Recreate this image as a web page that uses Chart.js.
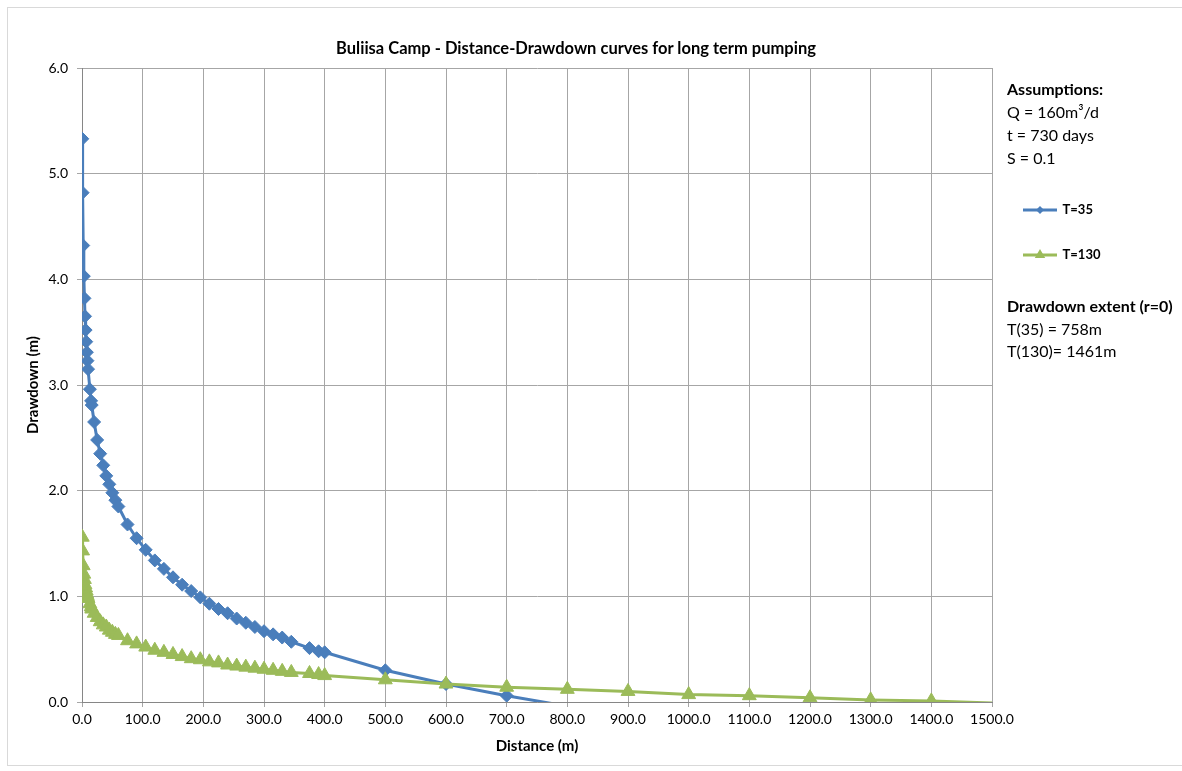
<!DOCTYPE html>
<html>
<head>
<meta charset="utf-8">
<title>Buliisa Camp - Distance-Drawdown curves</title>
<script src="https://cdn.jsdelivr.net/npm/chart.js@4.4.1/dist/chart.umd.min.js"></script>
<style>
  body { margin: 0; background: #fff; font-family: Lato, "Open Sans", sans-serif; color: #000; }
  #frame { position: absolute; left: 7px; top: 7px; width: 1200px; height: 757px; border: 1px solid #d9d9d9; }
  #chart { position: absolute; left: 8px; top: 8px; }
  .txt { position: absolute; white-space: nowrap; }
  #title { left: 0; width: 1152px; top: 38px; text-align: center; font-weight: bold; font-size: 16.5px; line-height: 20px; }
  .notes { left: 1007px; font-size: 16px; line-height: 23px; }
  .notes b { font-weight: bold; }
</style>
</head>
<body>
<div id="frame"></div>
<canvas id="chart" width="1174" height="763"></canvas>
<div id="title" class="txt">Buliisa Camp - Distance-Drawdown curves for long term pumping</div>
<div class="txt notes" style="top:77px"><b>Assumptions:</b><br>Q = 160m³/d<br>t = 730 days<br>S = 0.1</div>
<div class="txt notes" style="top:295px; line-height:22.5px"><b>Drawdown extent (r=0)</b><br>T(35) = 758m<br>T(130)= 1461m</div>
<script>
// distance from the pumping well (m)
var distance = [0.5, 1, 2, 3, 4, 5, 6, 7, 8, 9, 10, 13, 15, 16,
	20, 25, 30, 35, 40, 45, 50, 55, 60, 75, 90, 105, 120, 135, 150, 165,
	180, 195, 210, 225, 240, 255, 270, 285, 300, 315, 330, 345, 375, 390, 400,
	500, 600, 700, 800, 900, 1000, 1100, 1200, 1300, 1400, 1500];

// drawdown (m), T=35
var drawdownT35 = [5.33, 4.82, 4.32, 4.03, 3.82, 3.65, 3.52, 3.41, 3.31, 3.23, 3.15,
	2.96, 2.85, 2.81,
	2.65, 2.48, 2.35, 2.24, 2.14, 2.06, 1.98, 1.91, 1.85,
	1.68, 1.55, 1.44, 1.34, 1.26, 1.18, 1.11, 1.05, 0.99, 0.93, 0.88, 0.84, 0.79, 0.75, 0.71, 0.67, 0.64, 0.61, 0.57,
	0.51, 0.48, 0.47,
	0.30, 0.17, 0.06, -0.04,
	null, null, null, null, null, null, null];

// drawdown (m), T=130
var drawdownT130 = [1.56, 1.43, 1.29, 1.21, 1.16, 1.11, 1.08, 1.05, 1.02, 1.00, 0.98,
	0.93, 0.90, 0.88,
	0.84, 0.80, 0.76, 0.73, 0.71, 0.68, 0.66, 0.64, 0.63,
	0.58, 0.55, 0.52, 0.49, 0.47, 0.45, 0.43, 0.41, 0.40, 0.38, 0.37, 0.35, 0.34, 0.33, 0.32, 0.31, 0.30, 0.29, 0.28,
	0.27, 0.26, 0.25,
	0.21, 0.17, 0.14, 0.12,
	0.10, 0.07, 0.06, 0.04, 0.02, 0.01, -0.01];

var seriesNames = ["T=35", "T=130"];

var xMin = 0, xMax = 1500, xStep = 100;
var yMin = 0, yMax = 6, yStep = 1;

var blue = "#4a7ebb";
var green = "#9bbb59";
var gridColor = "#a6a6a6";

Chart.defaults.font.family = "Lato, 'Open Sans', sans-serif";
Chart.defaults.color = "#000";

function pairs(values) {
	return distance.map((d, i) => ({ x: d, y: values[i] }));
}

// hide markers that fall under the axis (the line is clipped there)
function markerSize(r) {
	return (ctx) => (ctx.raw && ctx.raw.y < 0 ? 0 : r);
}

// small line + marker picture for the legend
function legendIcon(color, shape, r) {
	var c = document.createElement("canvas");
	c.width = 34;
	c.height = 14;
	var g = c.getContext("2d");
	g.strokeStyle = color;
	g.fillStyle = color;
	g.lineWidth = 3;
	g.beginPath();
	g.moveTo(0, 7);
	g.lineTo(34, 7);
	g.stroke();
	g.beginPath();
	if (shape == "diamond") {
		g.moveTo(17, 7 - r);
		g.lineTo(17 + r, 7);
		g.lineTo(17, 7 + r);
		g.lineTo(17 - r, 7);
	} else {
		g.moveTo(17, 7 - r);
		g.lineTo(17 + r * 0.866, 7 + r / 2);
		g.lineTo(17 - r * 0.866, 7 + r / 2);
	}
	g.closePath();
	g.fill();
	return c;
}

var icons = [legendIcon(blue, "diamond", 4), legendIcon(green, "triangle", 6)];

// keep the legend column a fixed width so the plot ends at 1500 where it should
var legendWidth = {
	id: "legendWidth",
	beforeLayout(c) {
		var lg = c.legend;
		if (lg && !lg.fixedFit) {
			var fit = lg.fit;
			lg.fit = function () {
				fit.call(this);
				this.width = 130;
			};
			lg.fixedFit = true;
		}
	}
};

var chart = new Chart(document.getElementById("chart"), {
	type: "line",
	data: {
		datasets: [
			{
				label: seriesNames[0],
				data: pairs(drawdownT35),
				borderColor: blue,
				backgroundColor: blue,
				borderWidth: 3,
				tension: 0,
				pointStyle: "rectRot",
				pointRadius: markerSize(6.5),
				pointBorderWidth: 1,
				order: 1
			},
			{
				label: seriesNames[1],
				data: pairs(drawdownT130),
				borderColor: green,
				backgroundColor: green,
				borderWidth: 3,
				tension: 0,
				pointStyle: "triangle",
				pointRadius: markerSize(8),
				pointBorderWidth: 1,
				order: 0
			}
		]
	},
	plugins: [legendWidth],
	options: {
		responsive: false,
		animation: false,
		layout: { padding: { top: 60, right: 60, bottom: 0, left: 0 } },
		plugins: {
			title: { display: false },
			tooltip: { enabled: false },
			legend: {
				position: "right",
				align: "start",
				title: { display: true, text: " ", font: { size: 13 }, padding: { top: 87.9, bottom: 0 } },
				labels: {
					usePointStyle: true,
					pointStyleWidth: 32,
					padding: 32,
					color: "#000",
					font: { size: 13, weight: "bold" },
					generateLabels: (c) =>
						Chart.defaults.plugins.legend.labels.generateLabels(c)
							.sort((a, b) => a.datasetIndex - b.datasetIndex)
							.map((item) => Object.assign(item, { pointStyle: icons[item.datasetIndex] }))
				}
			}
		},
		scales: {
			x: {
				type: "linear",
				min: xMin,
				max: xMax,
				afterFit: (s) => { s.height = 69; },
				ticks: {
					stepSize: xStep,
					autoSkip: false,
					maxRotation: 0,
					padding: 4,
					font: { size: 14 },
					callback: (v) => v.toFixed(1)
				},
				grid: { color: gridColor, tickLength: 5 },
				border: { color: "#868686" },
				title: {
					display: true,
					text: "Distance (m)",
					font: { size: 15, weight: "bold" },
					padding: { top: 0, bottom: 16 }
				}
			},
			y: {
				min: yMin,
				max: yMax,
				afterFit: (s) => { s.width = 74; },
				ticks: {
					stepSize: yStep,
					padding: 9,
					font: { size: 14 },
					callback: (v) => v.toFixed(1)
				},
				grid: { color: gridColor, tickLength: 5 },
				border: { color: "#868686" },
				title: {
					display: true,
					text: "Drawdown (m)",
					font: { size: 15, weight: "bold" },
					padding: { top: 16, bottom: 0 }
				}
			}
		}
	}
});
</script>
</body>
</html>
